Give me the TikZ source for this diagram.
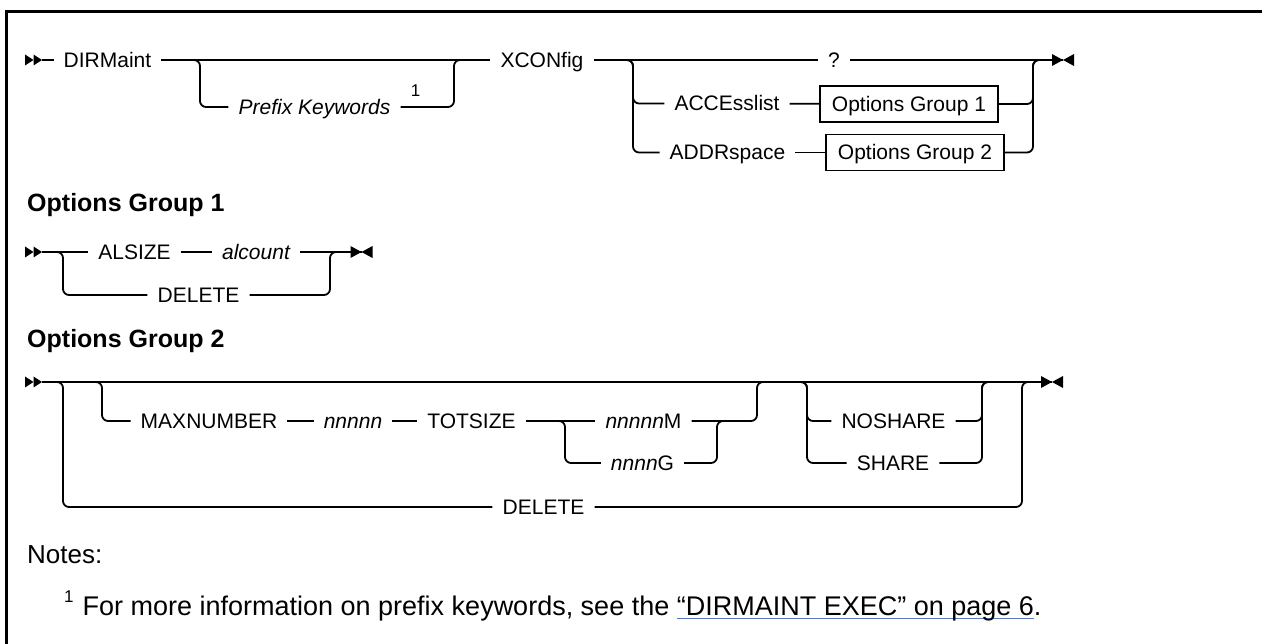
\documentclass[tikz,border=0pt]{standalone}
\usepackage{fontspec}
\setmainfont{Liberation Sans}
\usetikzlibrary{calc}
\definecolor{linkc}{HTML}{5B7BC0}
\newcommand\kwsize{\fontsize{21}{25}\selectfont}
\newcommand\ulink[1]{\setbox0\hbox{#1}\rlap{\textcolor{linkc}{\rule[-4pt]{\wd0}{1.2pt}}}\box0}
\tikzset{
 rail/.style={line width=1.8pt},
 rc/.style={rounded corners=6pt},
 kw/.style={font=\kwsize, text height=15pt, text depth=0pt, inner ysep=0pt, inner xsep=10pt},
 var/.style={kw, font=\kwsize\itshape},
 grp/.style={draw, line width=1.5pt, font=\kwsize, text height=15pt, text depth=0pt, minimum width=178pt, minimum height=36pt, inner sep=0pt},
 head/.style={font=\fontsize{25}{30}\selectfont\bfseries, anchor=base west, inner sep=0pt},
 note/.style={font=\fontsize{26}{30}\selectfont, anchor=base west, inner sep=0pt},
 pics/railstart/.style={code={\fill (-17,-5.5) -- (-8.5,0) -- (-17,5.5) -- cycle; \fill (-8.5,-5.5) -- (0,0) -- (-8.5,5.5) -- cycle;}},
 pics/railend/.style={code={\fill (-11,-6) -- (0,0) -- (-11,6) -- cycle; \fill (11,-6) -- (0,0) -- (11,6) -- cycle;}},
}
\begin{document}
\begin{tikzpicture}[x=1pt,y=-1pt]
\useasboundingbox (0,0) rectangle (1262,644);
% frame
\draw[line width=3pt, line join=miter] (6.5,644) -- (6.5,12) -- (1262,12);

% ---------- main syntax ----------
\coordinate (s1) at (42,60);
\pic at (s1) {railstart};
\node[kw] (dir) at (107.5,60) {DIRMaint};
\coordinate (b1) at (200,60);
\coordinate (j1) at (454,60);
\node[var] (pk) at (314.5,107) {Prefix Keywords};
\node[font=\fontsize{17}{17}\selectfont, inner sep=0pt] (fn1) at (415.5,91) {1};
\node[kw] (xcon) at (542,60) {XCONfig};
\node[kw] (qm) at (834,60) {?};
\coordinate (e1) at (1063,60);
\pic at (e1) {railend};
\coordinate (b2) at (633,60);
\coordinate (j2) at (1033,60);
\node[kw] (acc) at (727,103.5) {ACCEsslist};
\node[kw] (addr) at (727.5,152.5) {ADDRspace};
\node[grp] (box1) at (909,104) {Options Group 1};
\node[grp] (box2) at (915,152.5) {Options Group 2};

\draw[rail] (s1) -- (dir);
\draw[rail] (dir) -- (xcon);
\draw[rail] (xcon) -- (qm);
\draw[rail] (qm) -- (e1);
\draw[rail,rc] ($(b1)+(-8,0)$) -- (b1) |- (pk.west);
\draw[rail,rc] (pk.east) -| (j1) -- ++(8,0);
\draw[rail,rc] ($(b2)+(-8,0)$) -- (b2) |- (acc.west);
\draw[rail,rc] ($(b2)+(-8,0)$) -- (b2) |- (addr.west);
\draw[rail] (acc) -- (box1);
\draw[rail] (addr) -- (box2);
\draw[rail,rc] (box1.east) -| (j2) -- ++(8,0);
\draw[rail,rc] (box2.east) -| (j2) -- ++(8,0);

% ---------- Options Group 1 ----------
\node[head] (h1) at (27,212) {Options Group 1};
\coordinate (s2) at (42,252);
\pic at (s2) {railstart};
\coordinate (b3) at (63,252);
\coordinate (j3) at (330,252);
\node[kw] (als) at (134.5,252) {ALSIZE};
\node[var] (alc) at (256,252) {alcount};
\node[kw] (del1) at (198.5,295) {DELETE};
\coordinate (e2) at (361.5,252);
\pic at (e2) {railend};
\draw[rail] (s2) -- (als);
\draw[rail] (als) -- (alc);
\draw[rail] (alc) -- (e2);
\draw[rail,rc] ($(b3)+(-8,0)$) -- (b3) |- (del1.west);
\draw[rail,rc] (del1.east) -| (j3) -- ++(8,0);

% ---------- Options Group 2 ----------
\node[head] (h2) at (27,348) {Options Group 2};
\coordinate (s3) at (42,382);
\pic at (s3) {railstart};
\coordinate (e3) at (1052,382);
\pic at (e3) {railend};
\coordinate (b4) at (63,382);
\coordinate (b5) at (102,382);
\coordinate (b6) at (565,421);
\coordinate (j6) at (717,421);
\coordinate (j5) at (757,382);
\coordinate (b7) at (807,382);
\coordinate (j7) at (982,382);
\coordinate (j4) at (1022,382);
\node[kw] (maxn) at (209,421) {MAXNUMBER};
\node[var] (nnn) at (353,421) {nnnnn};
\node[kw] (tot) at (471.5,421) {TOTSIZE};
\node[kw] (nm) at (643.5,421) {\textit{nnnnn}M};
\node[kw] (ng) at (642.5,463) {\textit{nnnn}G};
\node[kw] (nosh) at (893.5,421) {NOSHARE};
\node[kw] (sh) at (893,463) {SHARE};
\node[kw] (del2) at (543.5,507) {DELETE};

\draw[rail] (s3) -- (e3);
\draw[rail,rc] ($(b4)+(-8,0)$) -- (b4) |- (del2.west);
\draw[rail,rc] (del2.east) -| (j4) -- ++(8,0);
\draw[rail,rc] ($(b5)+(-8,0)$) -- (b5) |- (maxn.west);
\draw[rail] (maxn) -- (nnn);
\draw[rail] (nnn) -- (tot);
\draw[rail] (tot) -- (nm);
\draw[rail,rc] ($(b6)+(-8,0)$) -- (b6) |- (ng.west);
\draw[rail,rc] (ng.east) -| (j6) -- ++(8,0);
\draw[rail,rc] (nm.east) -| (j5) -- ++(8,0);
\draw[rail,rc] ($(b7)+(-8,0)$) -- (b7) |- (nosh.west);
\draw[rail,rc] ($(b7)+(-8,0)$) -- (b7) |- (sh.west);
\draw[rail,rc] (nosh.east) -| (j7) -- ++(8,0);
\draw[rail,rc] (sh.east) -| (j7) -- ++(8,0);

% ---------- Notes ----------
\node[note] (notes) at (27,563) {Notes:};
\node[note, font=\fontsize{27}{30}\selectfont] (fn) at (64,615) {{\fontsize{17}{17}\selectfont\raisebox{13pt}{1}}\hspace{9pt}For more information on prefix keywords, see the \ulink{“DIRMAINT EXEC” on page 6}.};
\end{tikzpicture}
\end{document}
